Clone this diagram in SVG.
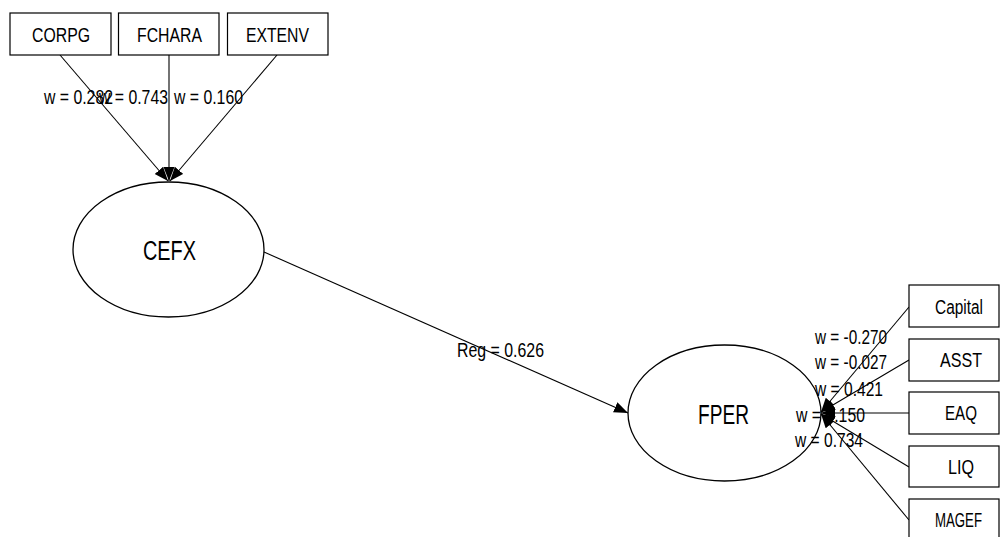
<svg xmlns="http://www.w3.org/2000/svg" width="1000" height="537" viewBox="0 0 1000 537">
  <style>
    .box { fill: #fff; stroke: #000; stroke-width: 1.2; }
    .lv { fill: none; stroke: #000; stroke-width: 1.3; }
    .edge { stroke: #000; stroke-width: 1.1; fill: none; marker-end: url(#head); }
    text { font-family: "Liberation Sans", Arial, sans-serif; fill: #000; }
    .ind { font-size: 20px; }
    .lat { font-size: 27px; }
    .lbl { font-size: 19.5px; }
  </style>
  <defs>
    <marker id="head" markerUnits="userSpaceOnUse" markerWidth="16" markerHeight="12" refX="14" refY="5.5" orient="auto">
      <path d="M0,0 L14,5.5 L0,11 z" fill="#000"/>
    </marker>
  </defs>

  <rect width="1000" height="537" fill="#fff"/>

  <!-- connectors -->
  <g id="connectors">
    <line class="edge" x1="60" y1="55" x2="168" y2="181"/>
    <line class="edge" x1="169" y1="55" x2="169" y2="181"/>
    <line class="edge" x1="277" y1="55" x2="170" y2="181"/>
    <line class="edge" x1="264" y1="252" x2="628" y2="413"/>
    <line class="edge" x1="909" y1="307" x2="821" y2="412"/>
    <line class="edge" x1="909" y1="360" x2="821" y2="412"/>
    <line class="edge" x1="909" y1="413" x2="821" y2="413"/>
    <line class="edge" x1="909" y1="467" x2="821" y2="414"/>
    <line class="edge" x1="909" y1="520" x2="821" y2="414"/>
  </g>

  <!-- latent variables -->
  <g id="CEFX">
    <ellipse class="lv" cx="168.5" cy="249.5" rx="95.5" ry="67.5"/>
    <text class="lat" x="143" y="260" textLength="53" lengthAdjust="spacingAndGlyphs">CEFX</text>
  </g>
  <g id="FPER">
    <ellipse class="lv" cx="724.5" cy="413" rx="96.5" ry="68"/>
    <text class="lat" x="698" y="424" textLength="51" lengthAdjust="spacingAndGlyphs">FPER</text>
  </g>

  <!-- formative indicators of CEFX -->
  <g id="CORPG">
    <rect class="box" x="10" y="13" width="101" height="42"/>
    <text class="ind" x="32" y="42" textLength="58" lengthAdjust="spacingAndGlyphs">CORPG</text>
  </g>
  <g id="FCHARA">
    <rect class="box" x="118.5" y="13" width="100.5" height="42"/>
    <text class="ind" x="137" y="42" textLength="65" lengthAdjust="spacingAndGlyphs">FCHARA</text>
  </g>
  <g id="EXTENV">
    <rect class="box" x="227.5" y="13" width="100.5" height="42"/>
    <text class="ind" x="246" y="42" textLength="63" lengthAdjust="spacingAndGlyphs">EXTENV</text>
  </g>

  <!-- formative indicators of FPER -->
  <g id="Capital">
    <rect class="box" x="909" y="285" width="90" height="42"/>
    <text class="ind" x="935" y="314" textLength="48" lengthAdjust="spacingAndGlyphs">Capital</text>
  </g>
  <g id="ASST">
    <rect class="box" x="909" y="339" width="90" height="42"/>
    <text class="ind" x="940" y="367" textLength="42" lengthAdjust="spacingAndGlyphs">ASST</text>
  </g>
  <g id="EAQ">
    <rect class="box" x="909" y="392" width="90" height="42"/>
    <text class="ind" x="945" y="420" textLength="32" lengthAdjust="spacingAndGlyphs">EAQ</text>
  </g>
  <g id="LIQ">
    <rect class="box" x="909" y="446" width="90" height="41"/>
    <text class="ind" x="948" y="474" textLength="26" lengthAdjust="spacingAndGlyphs">LIQ</text>
  </g>
  <g id="MAGEF">
    <rect class="box" x="909" y="499" width="90" height="42"/>
    <text class="ind" x="935" y="527" textLength="47" lengthAdjust="spacingAndGlyphs">MAGEF</text>
  </g>

  <!-- path coefficients and weights -->
  <g id="edge-labels">
    <text class="lbl" x="44" y="104" textLength="69" lengthAdjust="spacingAndGlyphs">w = 0.282</text>
    <text class="lbl" x="99" y="104" textLength="69" lengthAdjust="spacingAndGlyphs">w = 0.743</text>
    <text class="lbl" x="174" y="104" textLength="69" lengthAdjust="spacingAndGlyphs">w = 0.160</text>
    <text class="lbl" x="457" y="357" textLength="87" lengthAdjust="spacingAndGlyphs">Reg = 0.626</text>
    <text class="lbl" x="815" y="344" textLength="72" lengthAdjust="spacingAndGlyphs">w = -0.270</text>
    <text class="lbl" x="815" y="369" textLength="72" lengthAdjust="spacingAndGlyphs">w = -0.027</text>
    <text class="lbl" x="815" y="396" textLength="68" lengthAdjust="spacingAndGlyphs">w = 0.421</text>
    <text class="lbl" x="796" y="422" textLength="69" lengthAdjust="spacingAndGlyphs">w = 0.150</text>
    <text class="lbl" x="795" y="447" textLength="68" lengthAdjust="spacingAndGlyphs">w = 0.734</text>
  </g>
</svg>
